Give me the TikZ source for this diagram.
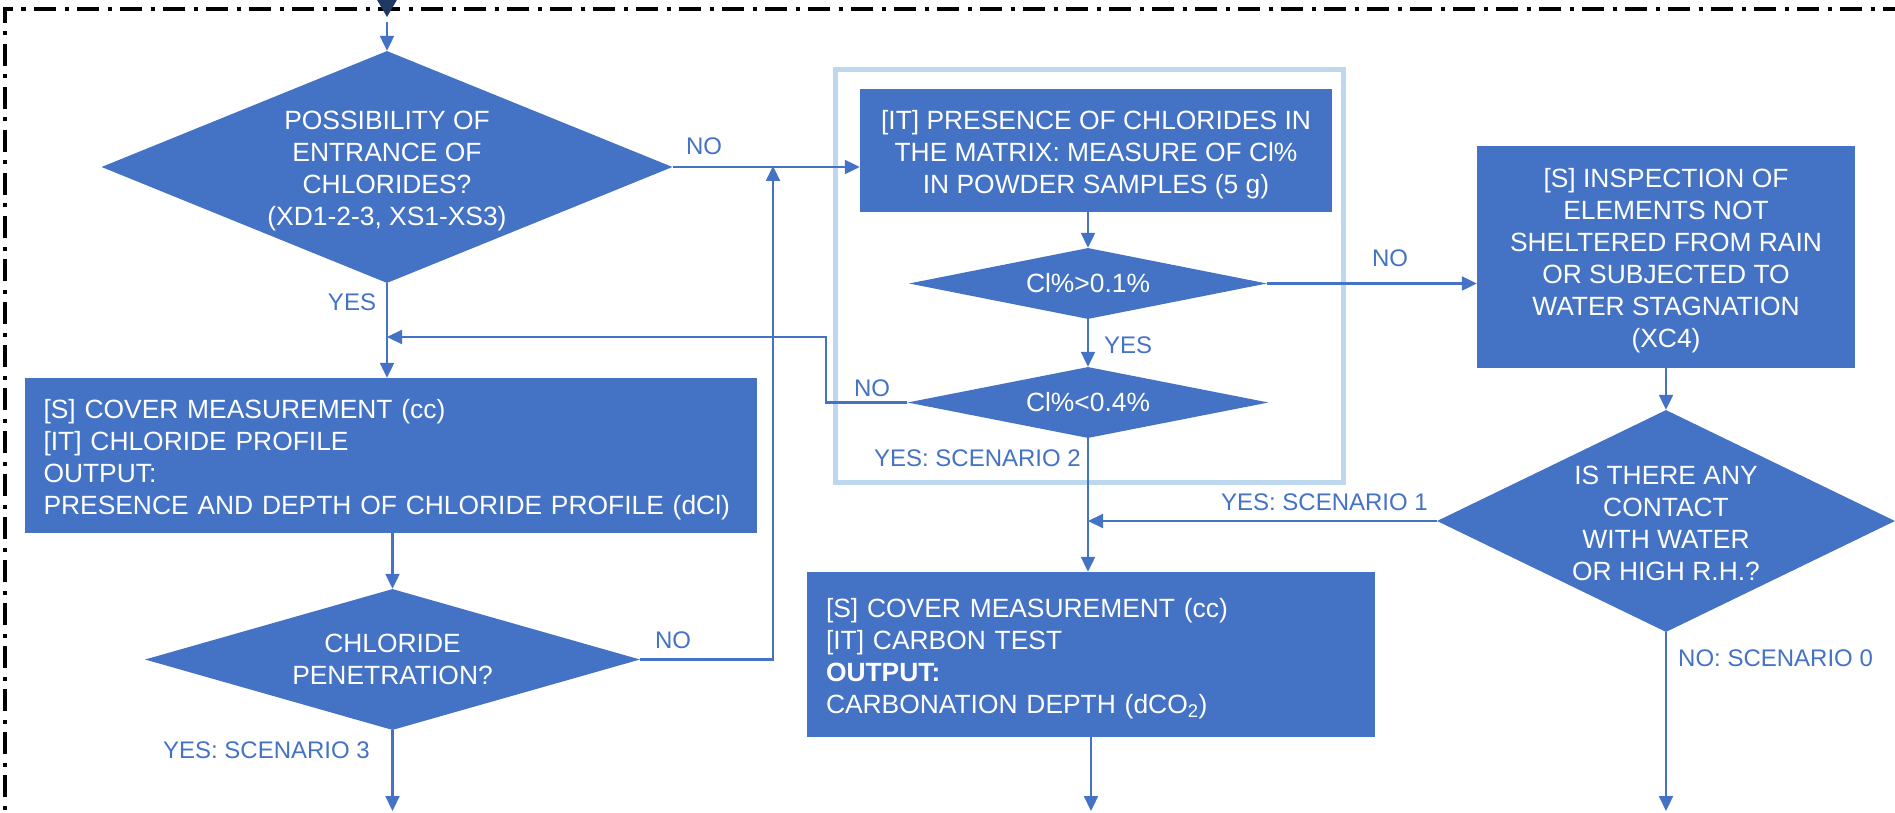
\documentclass[tikz,border=0pt]{standalone}
\usepackage{fontspec}
\setmainfont{Liberation Sans}
\usetikzlibrary{shapes.geometric,arrows.meta}
\definecolor{obl}{HTML}{4472C4}
\definecolor{lbl}{HTML}{BDD7EE}
\definecolor{navy}{HTML}{203864}
\newcommand{\topstr}{\rule{0pt}{27pt}}
\begin{document}
\begin{tikzpicture}[x=1pt,y=-1pt,
  boxfont/.style={font=\fontsize{26.4}{32}\selectfont},
  lblfont/.style={font=\fontsize{24}{28}\selectfont},
  proc/.style={fill=obl, text=white, inner sep=0pt, boxfont, align=center},
  lproc/.style={fill=obl, text=white, inner ysep=0pt, inner xsep=19pt, boxfont, align=left},
  dec/.style={diamond, fill=obl, text=white, inner sep=0pt, boxfont, align=center},
  conn/.style={draw=obl, line width=2.2pt, -{Triangle[length=15pt,width=14pt]}},
  lab/.style={text=obl, lblfont, inner sep=0pt},
  frm/.style={draw=lbl, line width=5pt, inner sep=0pt},
  border/.style={draw=black, line width=4pt, dash pattern=on 22pt off 8.5pt on 4pt off 8.5pt},
]
\useasboundingbox (0,0) rectangle (1895,813);
\clip (0,0) rectangle (1895,813);

% outer dash-dot border
\draw[border] (5,840) -- (5,9) -- (1920,9);

% light frame
\node[frm, minimum width=508pt, minimum height=412pt] (frame) at (1089,276) {};

% nodes
\node[dec, minimum width=571pt, minimum height=232pt, aspect=2.46] (D1) at (387,167)
  {\topstr POSSIBILITY OF\\ENTRANCE OF\\CHLORIDES?\\(XD1-2-3, XS1-XS3)};
\node[lproc, text width=694.5pt, minimum width=732.5pt, minimum height=155pt] (S1) at (390.75,455.5)
  {\topstr{[S]} COVER MEASUREMENT (cc)\\ {[IT]} CHLORIDE PROFILE\\ OUTPUT:\\ PRESENCE AND DEPTH OF CHLORIDE PROFILE (dCl)};
\node[dec, minimum width=495pt, minimum height=141pt, aspect=3.5] (D3) at (392.5,659.5)
  {CHLORIDE\\PENETRATION?};
\node[proc, minimum width=472pt, minimum height=123pt] (IT) at (1096,150.5)
  {\topstr{[IT]} PRESENCE OF CHLORIDES IN\\THE MATRIX: MEASURE OF Cl\%\\IN POWDER SAMPLES (5 g)};
\node[dec, minimum width=358pt, minimum height=71pt, aspect=5] (D4) at (1088,283.5)
  {Cl\%>0.1\%};
\node[dec, minimum width=361pt, minimum height=71pt, aspect=5] (D5) at (1088,402.5)
  {Cl\%<0.4\%};
\node[proc, minimum width=378pt, minimum height=222pt] (XC4) at (1666,257)
  {\topstr{[S]} INSPECTION OF\\ELEMENTS NOT\\SHELTERED FROM RAIN\\OR SUBJECTED TO\\WATER STAGNATION\\(XC4)};
\node[dec, minimum width=458pt, minimum height=222pt, aspect=2.06] (D6) at (1666,521)
  {\rule{0pt}{23pt}IS THERE ANY\\CONTACT\\WITH WATER\\OR HIGH R.H.?};
\node[lproc, text width=530pt, minimum width=568pt, minimum height=165pt] (C) at (1091,654.5)
  {\topstr{[S]} COVER MEASUREMENT (cc)\\ {[IT]} CARBON TEST\\ \textbf{OUTPUT:}\\ CARBONATION DEPTH (dCO\textsubscript{2})};

% helper coordinates
\coordinate (inB) at (387,22);
\coordinate (jA) at (773,166);
\coordinate (jB) at (826,337);
\coordinate (jC) at (387,337);
\coordinate (bot) at (0,811);

% incoming arrow head (dark)
\fill[navy] (376,-2) -- (398,-2) -- (387,17) -- cycle;

% connectors
\draw[conn] (inB) -- (D1.north);
\draw[conn] (D1.south) -- (D1.south |- S1.north);
\draw[conn] (D1.east) -- (D1.east -| IT.west);
\draw[conn] (S1.south -| D3.north) -- (D3.north);
\draw[conn] (D3.east) -| (jA);
\draw[conn] (IT.south -| D4.north) -- (D4.north);
\draw[conn] (D4.east) -- (D4.east -| XC4.west);
\draw[conn] (D4.south) -- (D5.north);
\draw[conn] (D5.west) -| (jB) -- (jC);
\draw[conn] (D5.south) -- (D5.south |- C.north);
\draw[conn] (XC4.south) -- (D6.north);
\draw[conn] (D6.west) -- (D6.west -| D5.south);
\draw[conn] (D3.south) -- (D3.south |- bot);
\draw[conn] (C.south) -- (C.south |- bot);
\draw[conn] (D6.south) -- (D6.south |- bot);

% labels
\node[lab] (lNo1) at (704,146) {NO};
\node[lab] (lYes1) at (352,302) {YES};
\node[lab] (lNo2) at (1390,258) {NO};
\node[lab] (lYes2) at (1128,345) {YES};
\node[lab] (lNo3) at (872,388) {NO};
\node[lab, anchor=east] (lSc2) at (1081,458) {YES: SCENARIO 2};
\node[lab, anchor=east] (lSc1) at (1428,502) {YES: SCENARIO 1};
\node[lab] (lNo4) at (673,640) {NO};
\node[lab, anchor=east] (lSc3) at (370,750) {YES: SCENARIO 3};
\node[lab, anchor=west] (lSc0) at (1678,658) {NO: SCENARIO 0};
\end{tikzpicture}
\end{document}
